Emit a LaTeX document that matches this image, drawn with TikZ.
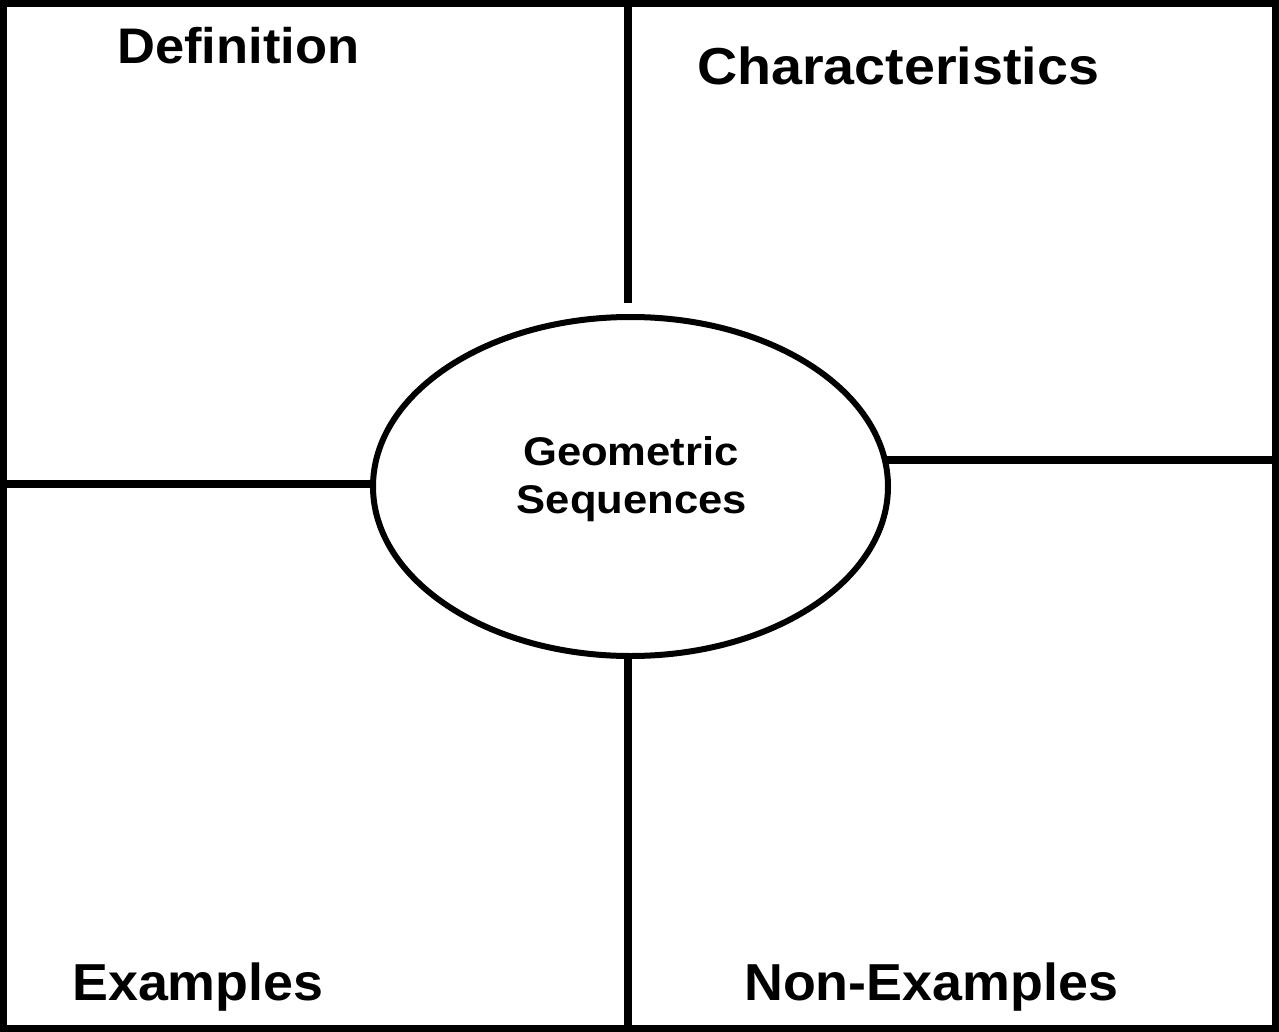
\documentclass[tikz,border=0pt]{standalone}
\usepackage{fontspec}
\usepackage{graphicx}
\setmainfont{Liberation Sans}
\usetikzlibrary{shapes.geometric}

\tikzset{
  frame/.style={line width=7pt},
  divider/.style={line width=7.5pt},
  hubshape/.style={ellipse, draw, line width=6pt, inner sep=0pt,
    minimum width=515pt, minimum height=339pt},
  heading/.style={anchor=base west, inner sep=0pt,
    font=\fontsize{52}{62}\selectfont\bfseries},
  hubtext/.style={anchor=base, inner sep=0pt,
    font=\fontsize{40}{48}\selectfont\bfseries},
}

\begin{document}
\begin{tikzpicture}[x=1pt, y=-1pt]
  \useasboundingbox (0,0) rectangle (1279,1032);
  \fill[white] (0,0) rectangle (1279,1032);

  % outer frame
  \draw[frame] (3.5,3.5) rectangle (1275.5,1028);

  % central ellipse
  \node[hubshape] (hub) at (630.5,486.5) {};

  % ends of the dividing lines
  \coordinate (topB)  at (628,3.5);
  \coordinate (topE)  at (628,303);
  \coordinate (botE)  at (628,653);
  \coordinate (botB)  at (628,1028);
  \coordinate (leftB) at (3.5,484);
  \coordinate (leftE) at (373,484);
  \coordinate (rightE) at (885,460);
  \coordinate (rightB) at (1275.5,460);

  \draw[divider] (topB) -- (topE);
  \draw[divider] (botE) -- (botB);
  \draw[divider] (leftB) -- (leftE);
  \draw[divider] (rightE) -- (rightB);

  % quadrant headings
  \node[heading, font=\fontsize{50}{60}\selectfont\bfseries] (def) at (117,64)
    {\scalebox{1.05}[1]{Definition}};
  \node[heading] (char) at (697,85) {\scalebox{1.07}[1]{Characteristics}};
  \node[heading] (ex) at (72,1000) {\scalebox{1.035}[1]{Examples}};
  \node[heading] (nonex) at (744,1000) {\scalebox{1.035}[1]{Non-Examples}};

  % title inside the ellipse
  \node[hubtext] (geo) at (631,465) {\scalebox{1.09}[1]{Geometric}};
  \node[hubtext] (seq) at (632,513) {\scalebox{1.09}[1]{Sequences}};
\end{tikzpicture}
\end{document}
